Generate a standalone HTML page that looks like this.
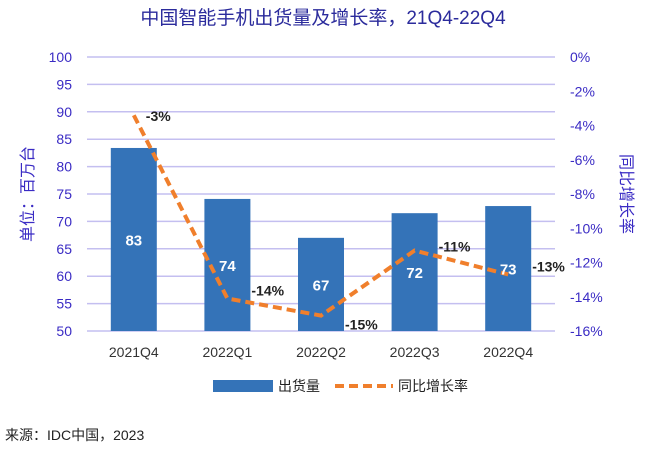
<!DOCTYPE html>
<html><head><meta charset="utf-8"><style>
body{margin:0;background:#fff;width:647px;height:448px;overflow:hidden}
svg text{font-family:"Liberation Sans","Noto Sans CJK SC",sans-serif}
</style></head><body>
<svg id="c" width="647" height="448">
<text x="323" y="24" text-anchor="middle" font-size="19" fill="#2b2b9c">中国智能手机出货量及增长率，21Q4-22Q4</text>
<text transform="translate(33,194) rotate(-90)" text-anchor="middle" font-size="16" fill="#3a2bc4">单位：百万台</text>
<text transform="translate(621,194) rotate(90)" text-anchor="middle" font-size="16" fill="#3a2bc4">同比增长率</text>
<g id="grid"></g><g id="bars"></g><g id="line"></g><g id="labels"></g>
<rect x="213" y="380" width="60" height="12" fill="#3473b8"/>
<text x="278" y="391" font-size="14" fill="#222">出货量</text>
<line x1="335" y1="386" x2="393" y2="386" stroke="#f07f2c" stroke-width="4" stroke-dasharray="9,5"/>
<text x="398" y="391" font-size="14" fill="#222">同比增长率</text>
<text x="5" y="440" font-size="14" fill="#222">来源：IDC中国，2023</text>
</svg>
<script>
const categories=["2021Q4","2022Q1","2022Q2","2022Q3","2022Q4"];
const shipments=[83.4,74.1,67.0,71.5,72.8];
const shipmentLabels=["83","74","67","72","73"];
const growth=[-3.4,-14.1,-15.1,-11.3,-12.7];
const growthLabels=["-3%","-14%","-15%","-11%","-13%"];
const leftTicks=[50,55,60,65,70,75,80,85,90,95,100];
const rightTicks=[0,-2,-4,-6,-8,-10,-12,-14,-16];
const NS="http://www.w3.org/2000/svg";
const px0=87,px1=555,pTop=57,pBot=331;
const yL=v=>pBot-(v-50)/50*(pBot-pTop);
const yR=v=>pTop+(-v)/16*(pBot-pTop);
const xC=i=>px0+(i+0.5)*(px1-px0)/categories.length;
function mk(p,t,a){const e=document.createElementNS(NS,t);for(const k in a)e.setAttribute(k,a[k]);document.getElementById(p).appendChild(e);return e;}
leftTicks.forEach(v=>{
 const l=mk("grid","line",{x1:px0,x2:px1,y1:yL(v),y2:yL(v),stroke:"#c4bff0","stroke-width":1.5});
 
 
 const t=mk("grid","text",{x:72,y:yL(v)+5,"text-anchor":"end","font-size":14,fill:"#3a2bc4"});t.textContent=v;
 
 
});
rightTicks.forEach(v=>{
 const t=mk("grid","text",{x:570,y:yR(v)+5,"font-size":14,fill:"#3a2bc4"});t.textContent=v+"%";
 
 
});
const gdx=[12,24,24,24,24];
const gdy=[6,-3,14,1,-3];
categories.forEach((c,i)=>{
 const t=mk("grid","text",{x:xC(i),y:357,"text-anchor":"middle","font-size":14,fill:"#333"});t.textContent=c;
 
 
 const b=mk("bars","rect",{x:xC(i)-23,y:yL(shipments[i]),width:46,height:pBot-yL(shipments[i]),fill:"#3473b8"});
 
 
 const bl=mk("labels","text",{x:xC(i),y:(yL(shipments[i])+pBot)/2+6,"text-anchor":"middle","font-size":15,"font-weight":"bold",fill:"#fff"});bl.textContent=shipmentLabels[i];
 
 
 const gl=mk("labels","text",{x:xC(i)+gdx[i],y:yR(growth[i])+gdy[i],"font-size":14,"font-weight":"bold",fill:"#222"});gl.textContent=growthLabels[i];
 
 
});
const pl=mk("line","polyline",{points:growth.map((g,i)=>xC(i)+","+yR(g)).join(" "),fill:"none",stroke:"#f07f2c","stroke-width":4,"stroke-dasharray":"9,5"});


</script>
</body></html>
